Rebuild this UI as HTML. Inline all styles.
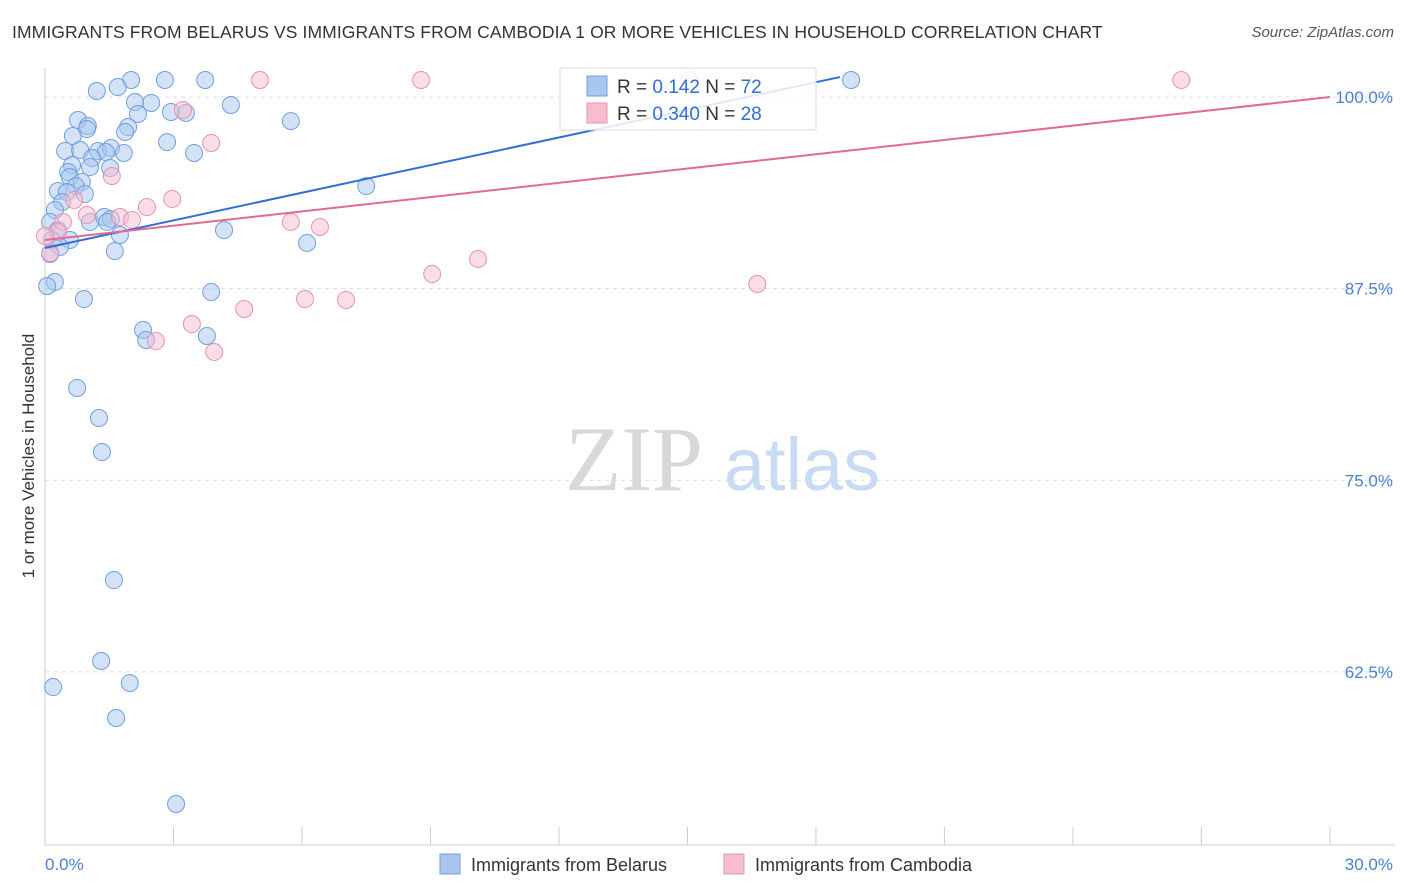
<!DOCTYPE html>
<html><head><meta charset="utf-8">
<style>
body{margin:0;background:#fff;font-family:"Liberation Sans",sans-serif;}
#wrap{position:relative;width:1406px;height:892px;overflow:hidden;}
.title{position:absolute;left:12px;top:22px;font-size:17.5px;color:#333;letter-spacing:0.1px;}
.source{position:absolute;right:12px;top:24px;font-size:15px;color:#555;font-style:italic;}
</style></head>
<body>
<div id="wrap">
<div class="title">IMMIGRANTS FROM BELARUS VS IMMIGRANTS FROM CAMBODIA 1 OR MORE VEHICLES IN HOUSEHOLD CORRELATION CHART</div>
<div class="source">Source: ZipAtlas.com</div>
<svg id="chart" width="1406" height="892" style="position:absolute;left:0;top:0"></svg>
</div>
<script>
const belarusX=[2.01,2.80,3.74,18.82,1.21,1.70,2.10,2.48,4.34,2.94,3.29,2.17,5.74,0.77,1.00,0.98,1.94,1.87,0.65,2.85,0.47,0.82,1.24,1.54,1.42,1.84,3.48,1.10,0.63,1.05,0.54,1.52,0.58,0.86,0.72,7.50,0.30,0.51,0.93,0.40,0.23,0.12,1.05,1.38,1.54,1.45,4.18,0.30,1.75,0.16,0.58,6.12,0.35,1.63,0.12,0.23,0.05,0.91,3.88,2.29,2.36,3.78,0.75,1.26,1.33,1.61,1.31,0.19,1.98,1.66,3.06];
const belarusY=[101.11,101.11,101.11,101.11,100.39,100.65,99.67,99.61,99.48,99.02,98.96,98.89,98.43,98.50,98.11,97.91,98.04,97.72,97.46,97.06,96.48,96.54,96.48,96.67,96.41,96.35,96.35,96.02,95.56,95.43,95.11,95.37,94.78,94.46,94.19,94.19,93.87,93.80,93.67,93.15,92.63,91.85,91.85,92.17,92.04,91.85,91.32,91.32,91.00,90.67,90.67,90.48,90.22,89.95,89.76,87.93,87.67,86.82,87.28,84.80,84.15,84.41,81.02,79.06,76.84,68.49,63.21,61.51,61.77,59.49,53.88];
const cambodiaX=[5.02,8.78,15.04,26.53,3.22,3.88,1.56,2.97,2.38,0.68,0.98,1.75,2.03,0.42,5.74,6.42,0.30,0.00,0.12,9.04,10.11,16.63,6.07,7.03,4.65,3.43,2.59,3.95];
const cambodiaY=[101.11,101.11,101.11,101.11,99.15,97.00,94.85,93.35,92.82,93.28,92.30,92.17,91.98,91.85,91.85,91.52,91.19,90.93,89.82,88.45,89.43,87.80,86.82,86.76,86.17,85.19,84.08,83.37];
const belarusTrend=[[0,90.15],[18.56,101.3]];
const cambodiaTrend=[[0,90.67],[30,100]];
const yTicks=[100,87.5,75,62.5];
const yTickLabels=["100.0%","87.5%","75.0%","62.5%"];
const xTickCount=10;

const svg=document.getElementById('chart');
const NS='http://www.w3.org/2000/svg';
const X=v=>45+v*42.83;
const Y=v=>97+(100-v)*15.33;
function mk(tag,attrs){const e=document.createElementNS(NS,tag);for(const k in attrs)e.setAttribute(k,attrs[k]);svg.appendChild(e);return e;}

// gridlines
yTicks.forEach((t,i)=>{
  const g=mk('line',{x1:45,x2:1395,y1:Y(t),y2:Y(t),stroke:'#ddd','stroke-dasharray':'4,4'});
  
  
  const l=mk('text',{x:1393,y:Y(t)+6,'text-anchor':'end','font-size':17,fill:'#4a7fd6'});
  l.textContent=yTickLabels[i];
  
  
});
// watermark
const w1=mk('text',{x:634,y:490,'text-anchor':'middle','font-size':92,fill:'#d8d8d8','font-family':'Liberation Serif, serif'});
w1.textContent='ZIP';


const w2=mk('text',{x:802,y:490,'text-anchor':'middle','font-size':74,fill:'#c9daf3'});
w2.textContent='atlas';


// axes
const ya=mk('line',{x1:45,x2:45,y1:68,y2:845,stroke:'#ccc'});


const xa=mk('line',{x1:45,x2:1395,y1:845,y2:845,stroke:'#ccc'});


for(let i=0;i<=xTickCount;i++){
  const t=mk('line',{x1:X(i*3),x2:X(i*3),y1:827,y2:845,stroke:'#ccc'});
  
  
}
const xl0=mk('text',{x:45,y:870,'font-size':17,fill:'#4a7fd6'});xl0.textContent='0.0%';


const xl1=mk('text',{x:1393,y:870,'text-anchor':'end','font-size':17,fill:'#4a7fd6'});xl1.textContent='30.0%';


const yt=mk('text',{x:34,y:456,'text-anchor':'middle','font-size':17,fill:'#333',transform:'rotate(-90 34 456)'});
yt.textContent='1 or more Vehicles in Household';



// points
function pts(xs,ys,fill,stroke,name){
  xs.forEach((x,i)=>{
    const c=mk('circle',{cx:X(x),cy:Y(ys[i]),r:8.5,fill:fill,'fill-opacity':0.5,stroke:stroke,'stroke-width':1});
    
    
  });
}
pts(belarusX,belarusY,'#a8c6f0','#6f9fe0','point-belarus');
pts(cambodiaX,cambodiaY,'#f8bcd0','#e992b0','point-cambodia');
// trends
const tb=mk('line',{x1:X(belarusTrend[0][0]),y1:Y(belarusTrend[0][1]),x2:X(belarusTrend[1][0]),y2:Y(belarusTrend[1][1]),stroke:'#2f6fd6','stroke-width':2});


const tc=mk('line',{x1:X(cambodiaTrend[0][0]),y1:Y(cambodiaTrend[0][1]),x2:X(cambodiaTrend[1][0]),y2:Y(cambodiaTrend[1][1]),stroke:'#e06a93','stroke-width':2});



// legend box
const lb=mk('rect',{x:560,y:68,width:256,height:62,fill:'#fff','fill-opacity':0.85,stroke:'#ddd'});


[[0,'#a8c6f0','#6f9fe0','0.142','72','legend-stats-belarus'],[1,'#f8bcd0','#e992b0','0.340','28','legend-stats-cambodia']].forEach(r=>{
  const yy=86+r[0]*27;
  const s=mk('rect',{x:587,y:yy-10,width:20,height:20,fill:r[1],stroke:r[2]});
  
  
  const t=mk('text',{x:617,y:yy+7,'font-size':19,fill:'#333'});
  t.innerHTML='R = <tspan fill="#2f6fd6">  '+r[3]+'</tspan>   N = <tspan fill="#2f6fd6">'+r[4]+'</tspan>';
  t.setAttribute('xml:space','preserve');
  
  
});
// bottom legend
[[440,'#a8c6f0','#6f9fe0','Immigrants from Belarus','legend-belarus'],[724,'#f8bcd0','#e992b0','Immigrants from Cambodia','legend-cambodia']].forEach(r=>{
  const s=mk('rect',{x:r[0],y:854,width:20,height:20,fill:r[1],stroke:r[2]});
  
  
  const t=mk('text',{x:r[0]+31,y:871,'font-size':18,fill:'#333'});
  t.textContent=r[3];
  
  
});
</script>
</body></html>
